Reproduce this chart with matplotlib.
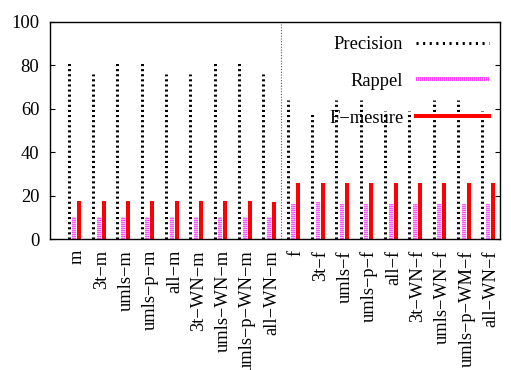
import matplotlib
matplotlib.use("Agg")
import matplotlib.pyplot as plt
import matplotlib.transforms as mtransforms
from matplotlib.lines import Line2D
import numpy as np

categories = ["m", "3t\u2212m", "umls\u2212m", "umls\u2212p\u2212m", "all\u2212m",
              "3t\u2212WN\u2212m", "umls\u2212WN\u2212m", "umls\u2212p\u2212WN\u2212m", "all\u2212WN\u2212m",
              "f", "3t\u2212f", "umls\u2212f", "umls\u2212p\u2212f", "all\u2212f",
              "3t\u2212WN\u2212f", "umls\u2212WN\u2212f", "umls\u2212p\u2212WM\u2212f", "all\u2212WN\u2212f"]
precision = [81, 76, 81, 81, 76, 76, 81, 81, 76,
             64, 58, 64, 64, 59, 59, 64, 64, 59]
rappel = [10, 10, 10, 10, 10, 10, 10, 10, 10,
          16, 17, 16, 16, 16, 16, 16, 16, 16]
fmesure = [17.5, 17.5, 17.5, 17.5, 17.5, 17.5, 17.5, 17.5, 17.2,
           26.0, 25.8, 26.0, 26.0, 25.8, 25.6, 26.0, 26.0, 25.7]
yticks = [0, 20, 40, 60, 80, 100]

plt.rcParams['font.family'] = ['Liberation Serif', 'DejaVu Serif']
FS = 13.3
PX = 0.72  # points per pixel at 100 dpi

fig = plt.figure(figsize=(5.11, 3.70), dpi=100)
ax = fig.add_axes([50/511, (370-239)/370, 450/511, 217/370])

x = np.arange(len(categories))

# Precision: black dashed impulses
lw_p = 3 * PX
ax.vlines(x - 0.23, 0, precision, colors='black', linewidth=lw_p,
          linestyles=[(0, (0.7, 1.0))], label='Precision')
# Rappel: pink striped impulses
lw_r = 4 * PX
ax.vlines(x, 0, rappel, colors='#ffb0ff', linewidth=lw_r)
ax.vlines(x, 0, rappel, colors='#ff40ff', linewidth=lw_r,
          linestyles=[(0, (0.2, 0.3))], label='Rappel')
# F-mesure: red solid impulses
lw_f = 4 * PX
ax.vlines(x + 0.21, 0, fmesure, colors='#ff0000', linewidth=lw_f, label='F\u2212mesure')

ax.axvline(8.5, color='#555555', linewidth=0.8, linestyle=(0, (1, 1.5)))

ax.set_xlim(-1, 17.5)
ax.set_ylim(0, 100)
ax.set_yticks(yticks)
ax.set_yticklabels([str(v) for v in yticks], fontsize=FS)
ax.tick_params(axis='y', direction='in', length=5*PX, width=0.8, right=True, pad=7.7)
ax.set_xticks(x)
ax.set_xticklabels(categories, rotation=90, fontsize=FS, va='top', ha='center')
ax.tick_params(axis='x', length=0, pad=8)
offset = mtransforms.ScaledTranslation(3/100, 0, fig.dpi_scale_trans)
for lab in ax.get_xticklabels():
    lab.set_transform(lab.get_transform() + offset)
for s in ax.spines.values():
    s.set_linewidth(1.0)

handles = [Line2D([0], [0], color='black', linewidth=lw_p, linestyle=(0, (0.7, 1.5))),
           Line2D([0], [0], color='#ff40ff', linewidth=lw_r, linestyle=(0, (0.25, 0.25))),
           Line2D([0], [0], color='#ff0000', linewidth=lw_f)]
ax.legend(handles, ['Precision', 'Rappel', 'F\u2212mesure'], loc='upper right',
          bbox_to_anchor=(1.0, 1.0 - 3/217), frameon=False, markerfirst=False,
          fontsize=FS, handlelength=3.95, handletextpad=0.69, labelspacing=1.07,
          borderaxespad=0.3, borderpad=0.3)

fig.savefig('out.png', dpi=100)
